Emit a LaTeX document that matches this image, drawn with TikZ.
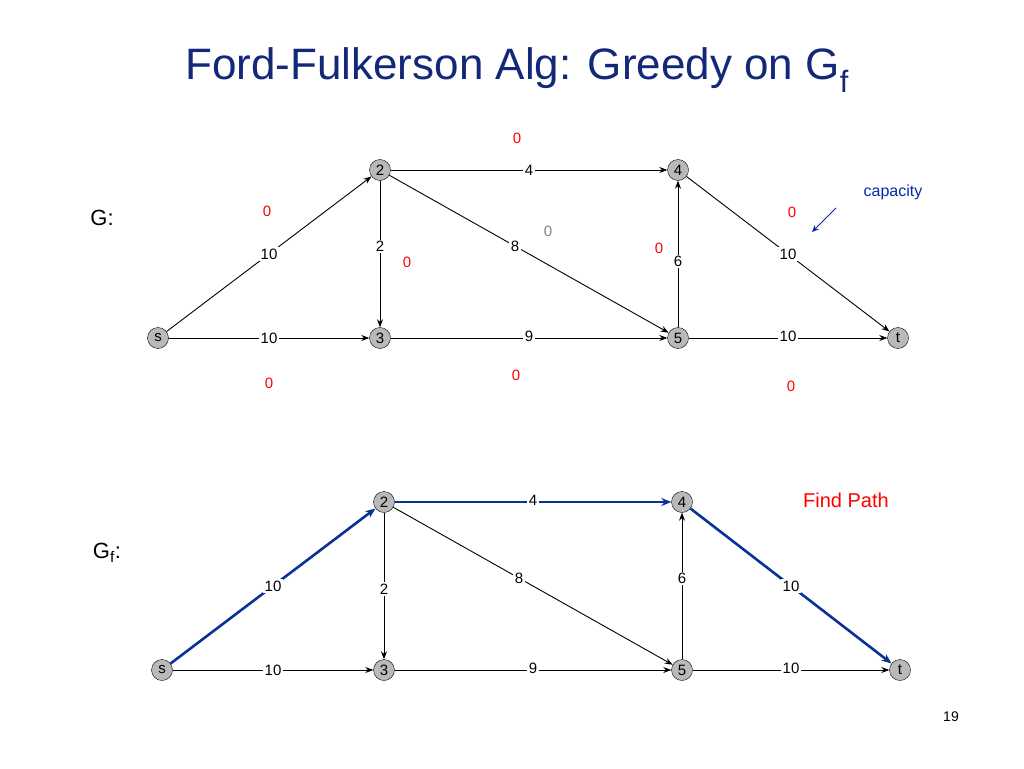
\documentclass[tikz,border=0pt]{standalone}
\usepackage{fontspec}
\setmainfont{Liberation Sans}
\usetikzlibrary{arrows.meta}
\definecolor{ttl}{RGB}{20,40,120}
\definecolor{pth}{RGB}{10,50,150}
\begin{document}
\begin{tikzpicture}[x=1pt,y=-1pt,
 vx/.style={circle,draw,fill=gray!55,inner sep=0pt,minimum size=21pt,font=\fontsize{15}{15}\selectfont},
 ed/.style={draw,-{Stealth[length=8pt,width=6pt]},line width=0.9pt},
 bl/.style={draw=pth,-{Stealth[length=10pt,width=8pt]},line width=2.6pt},
 lb/.style={fill=white,inner sep=1.5pt,font=\fontsize{15}{15}\selectfont},
 rz/.style={text=red,font=\fontsize{15}{15}\selectfont}]
\useasboundingbox (0,0) rectangle (1024,768);
\node[text=ttl,font=\fontsize{44}{44}\selectfont] (title) at (517,70) {Ford-Fulkerson Alg: Greedy on G\textsubscript{f}};
% top
\node[font=\fontsize{22}{22}\selectfont] (G) at (102,218) {G:};
\node[vx] (s) at (158,338) {s};
\node[vx] (n2) at (380,170) {2};
\node[vx] (n3) at (380,338) {3};
\node[vx] (n4) at (678,170) {4};
\node[vx] (n5) at (678,338) {5};
\node[vx] (t) at (898,338) {t};
\path[ed] (s) -- node[lb]{10} (n2);
\path[ed] (n2) -- node[lb]{4} (n4);
\path[ed] (n2) -- node[lb,pos=0.45]{2} (n3);
\path[ed] (n2) -- node[lb,pos=0.45]{8} (n5);
\path[ed] (n5) -- node[lb,pos=0.45]{6} (n4);
\path[ed] (n4) -- node[lb]{10} (t);
\path[ed] (s) -- node[lb]{10} (n3);
\path[ed] (n3) -- node[lb,yshift=2pt]{9} (n5);
\path[ed] (n5) -- node[lb,yshift=2pt]{10} (t);
\node[rz] (z1) at (517,138) {0};
\node[rz] (z2) at (267,211) {0};
\node[rz] (z3) at (407,262) {0};
\node[rz] (z4) at (659,248) {0};
\node[rz] (z5) at (792,212) {0};
\node[rz] (z6) at (269,383) {0};
\node[rz] (z7) at (516,375) {0};
\node[rz] (z8) at (791,386) {0};
\node[text=gray,font=\fontsize{15}{15}\selectfont] (zg) at (548,231) {0};
\node[text=pth!80!blue,font=\fontsize{16}{16}\selectfont] (cap) at (893,192) {capacity};
\coordinate (ca) at (836,208);
\coordinate (cb) at (812,232);
\draw[draw=pth!80!blue,-{Stealth[length=7pt,width=6pt]},line width=1pt] (ca) -- (cb);
% bottom
\node[font=\fontsize{22}{22}\selectfont] (Gf) at (107,553) {G\textsubscript{f}:};
\node[vx] (bs) at (162,670) {s};
\node[vx] (b2) at (384,502) {2};
\node[vx] (b3) at (384,670) {3};
\node[vx] (b4) at (682,502) {4};
\node[vx] (b5) at (682,670) {5};
\node[vx] (bt) at (900,670) {t};
\path[bl] (bs) -- node[lb,pos=0.5]{10} (b2);
\path[bl] (b2) -- node[lb,yshift=2pt]{4} (b4);
\path[ed] (b2) -- node[lb,pos=0.52]{2} (b3);
\path[ed] (b2) -- node[lb,pos=0.45]{8} (b5);
\path[ed] (b5) -- node[lb,pos=0.55]{6} (b4);
\path[bl] (b4) -- node[lb]{10} (bt);
\path[ed] (bs) -- node[lb]{10} (b3);
\path[ed] (b3) -- node[lb,yshift=2pt]{9} (b5);
\path[ed] (b5) -- node[lb,yshift=2pt]{10} (bt);
\node[text=red,font=\fontsize{20}{20}\selectfont] (fp) at (846,500) {Find Path};
\node[font=\fontsize{14}{14}\selectfont] (pg) at (951,717) {19};
\end{tikzpicture}
\end{document}
